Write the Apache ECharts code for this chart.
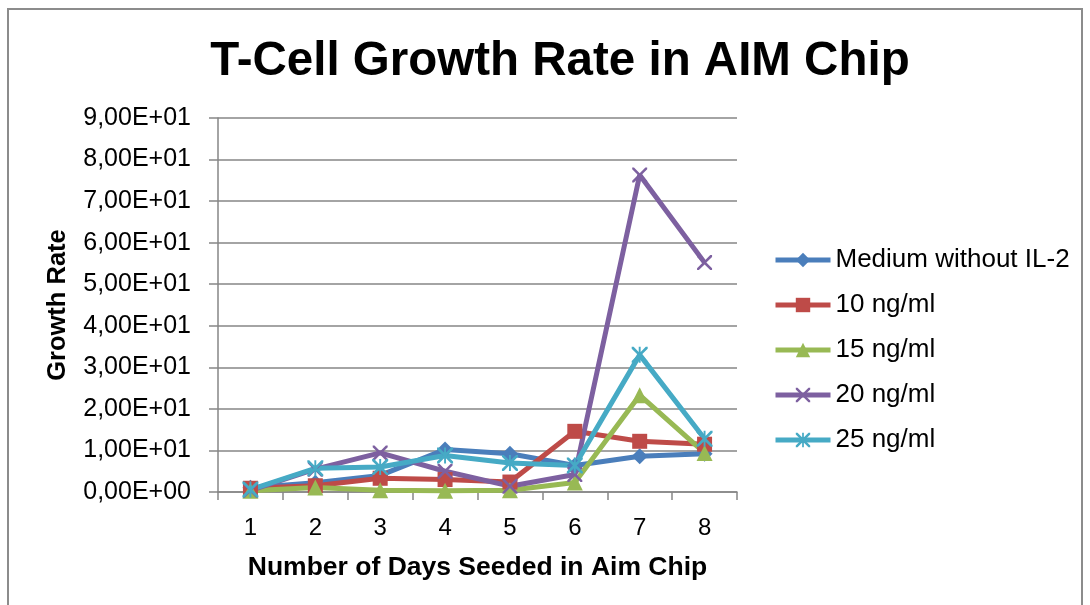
<!DOCTYPE html>
<html>
<head>
<meta charset="utf-8">
<script src="https://cdn.jsdelivr.net/npm/echarts@6/dist/echarts.min.js"></script>
<style>
  html, body { margin: 0; padding: 0; background: #fff; }
  #frame { position: absolute; left: 7px; top: 8px; width: 1076px; height: 610px; border: 2px solid #8c8c8c; box-sizing: border-box; }
  #chart { position: absolute; left: 0; top: 0; width: 1090px; height: 605px; }
</style>
</head>
<body>
<div id="frame"></div>
<div id="chart"></div>
<script>
const days = ['1', '2', '3', '4', '5', '6', '7', '8'];
const mediumWithoutIL2 = [1.0, 2.2, 4.0, 10.2, 9.2, 6.4, 8.6, 9.2];
const ng10 = [0.9, 1.5, 3.3, 3.0, 2.4, 14.6, 12.2, 11.5];
const ng15 = [0.3, 1.1, 0.4, 0.3, 0.4, 2.3, 23.3, 9.4];
const ng20 = [0.4, 5.5, 9.4, 5.0, 1.4, 4.2, 76.3, 55.2];
const ng25 = [0.6, 5.7, 6.0, 8.8, 7.0, 6.4, 33.0, 12.8];
const seriesNames = ['Medium without IL-2', '10 ng/ml', '15 ng/ml', '20 ng/ml', '25 ng/ml'];

const FONT = '"Liberation Sans", Arial, sans-serif';
const GRAY = '#868686';

function sciComma(v) {
  if (v === 0) return '0,00E+00';
  let e = Math.floor(Math.log10(Math.abs(v)));
  let m = v / Math.pow(10, e);
  if (Math.abs(m) >= 9.995) { m /= 10; e += 1; }
  const s = m.toFixed(2).replace('.', ',');
  return s + 'E' + (e >= 0 ? '+' : '-') + String(Math.abs(e)).padStart(2, '0');
}

const xPath = 'path://M0,0 L2.4,0 L10,7.6 L17.6,0 L20,0 L20,2.4 L12.4,10 L20,17.6 L20,20 L17.6,20 L10,12.4 L2.4,20 L0,20 L0,17.6 L7.6,10 L0,2.4 Z';
const starPath = 'path://M0,0 L2.4,0 L10,7.6 L17.6,0 L20,0 L20,2.4 L12.4,10 L20,17.6 L20,20 L17.6,20 L10,12.4 L2.4,20 L0,20 L0,17.6 L7.6,10 L0,2.4 Z M8.8,0 L11.2,0 L11.2,20 L8.8,20 Z';

function mkSeries(name, data, color, symbol, size) {
  return {
    name: name, type: 'line', data: data,
    symbol: symbol, symbolSize: size,
    lineStyle: { color: color, width: 5 },
    itemStyle: { color: color },
    emphasis: { disabled: true },
    animation: false
  };
}

const chart = echarts.init(document.getElementById('chart'), null, { renderer: 'canvas' });
chart.setOption({
  backgroundColor: 'transparent',
  animation: false,
  title: {
    text: 'T-Cell Growth Rate in AIM Chip',
    left: 555, top: 33, textAlign: 'center',
    textStyle: { fontFamily: FONT, fontSize: 47.5, fontWeight: 'bold', color: '#000' }
  },
  grid: { left: 218, right: 353, top: 118, bottom: 113, containLabel: false },
  legend: {
    orient: 'vertical',
    left: 768, top: 242,
    itemWidth: 55, itemHeight: 18,
    itemGap: 19,
    lineStyle: { width: 5 },
    textStyle: { fontFamily: FONT, fontSize: 26, color: '#000', lineHeight: 26 },
    data: seriesNames
  },
  xAxis: {
    type: 'category',
    data: days,
    boundaryGap: true,
    axisLine: { lineStyle: { color: GRAY, width: 1.5 } },
    axisTick: { show: true, interval: 0, length: 8, lineStyle: { color: GRAY, width: 1.5 } },
    axisLabel: { fontFamily: FONT, fontSize: 24, color: '#000', margin: 24, interval: 0 },
    name: 'Number of Days Seeded in Aim Chip',
    nameLocation: 'middle',
    nameGap: 62,
    nameTextStyle: { fontFamily: FONT, fontSize: 26.5, fontWeight: 'bold', color: '#000' },
    splitLine: { show: false }
  },
  yAxis: {
    type: 'value',
    min: 0, max: 90, interval: 10,
    axisLine: { show: true, lineStyle: { color: GRAY, width: 1.5 } },
    axisTick: { show: true, length: 9, lineStyle: { color: GRAY, width: 1.5 } },
    axisLabel: { fontFamily: FONT, fontSize: 25, color: '#000', margin: 27, formatter: sciComma },
    splitLine: { show: true, lineStyle: { color: GRAY, width: 1.5 } },
    name: 'Growth Rate',
    nameLocation: 'middle',
    nameGap: 147,
    nameRotate: 90,
    nameTextStyle: { fontFamily: FONT, fontSize: 25.5, fontWeight: 'bold', color: '#000' }
  },
  series: [
    mkSeries(seriesNames[0], mediumWithoutIL2, '#4A7EBB', 'diamond', 16),
    mkSeries(seriesNames[1], ng10, '#BE4B48', 'rect', 15),
    mkSeries(seriesNames[2], ng15, '#98B954', 'triangle', 16),
    mkSeries(seriesNames[3], ng20, '#7D60A0', xPath, 15),
    mkSeries(seriesNames[4], ng25, '#46AAC5', starPath, 16)
  ]
});
</script>
</body>
</html>
